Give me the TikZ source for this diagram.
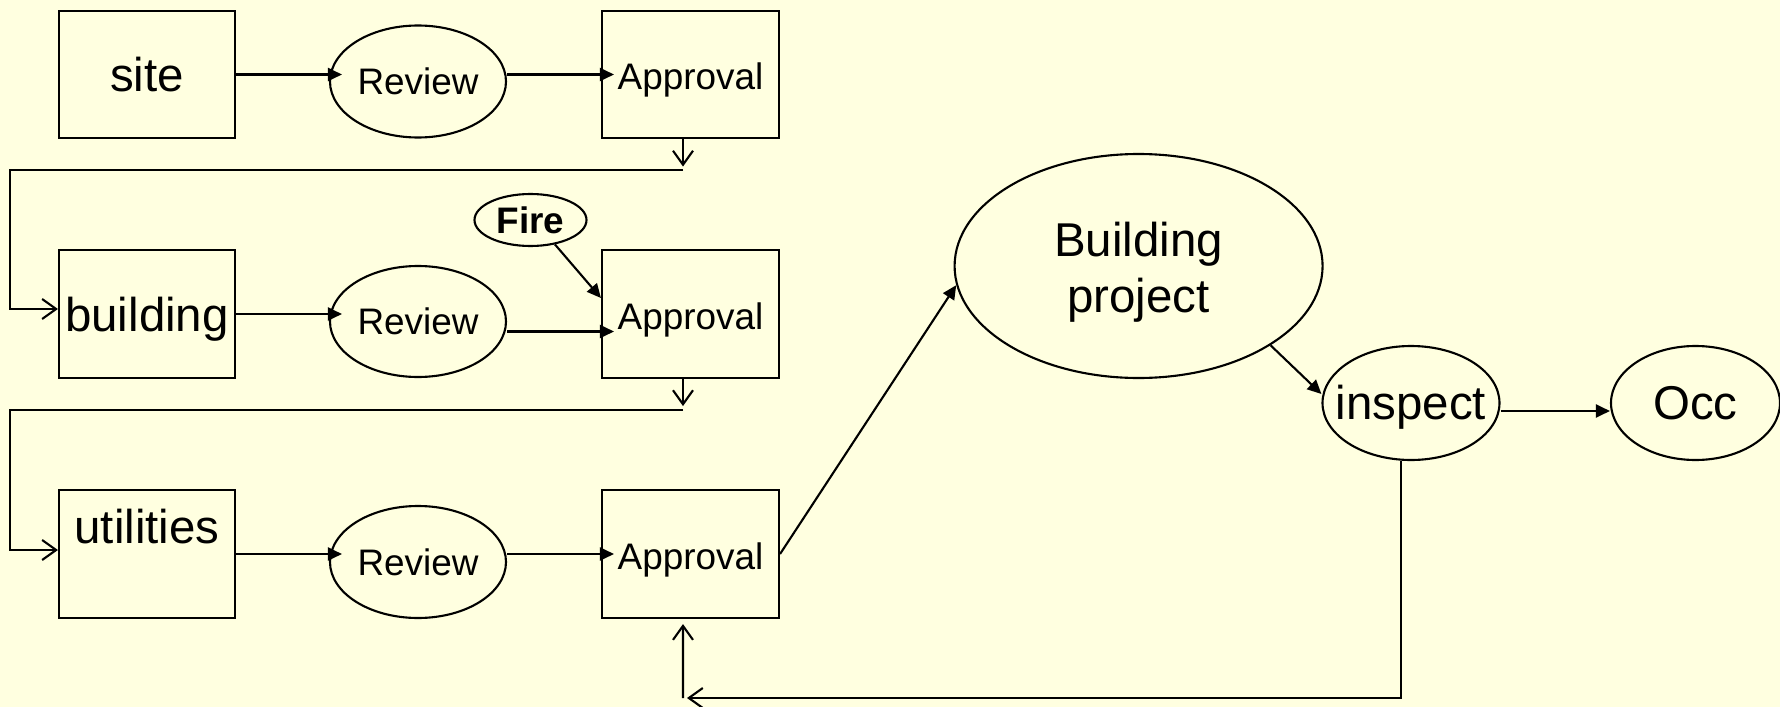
\documentclass[tikz,border=0pt]{standalone}
\usepackage{fontspec}
\setmainfont{Liberation Sans}
\usetikzlibrary{arrows.meta}
\usetikzlibrary{shapes.geometric}
\definecolor{paper}{RGB}{255,255,224}
\tikzset{
    box/.style={draw,inner sep=0,minimum width=1.76cm,minimum height=1.27cm},
    oval/.style={draw,ellipse,inner sep=0},
    bigtxt/.style={font=\fontsize{13.5}{16}\selectfont},
    smalltxt/.style={font=\fontsize{10.5}{12.6}\selectfont},
    lowtxt/.style={text height=8.6pt,text depth=0pt},
    flow/.style={-{Triangle[length=0.14cm,width=0.13cm]}},
    into/.style={flow,shorten >=-0.13cm},
    back/.style={-{Straight Barb[length=0.14cm,width=0.2cm]}},
}
\begin{document}
\begin{tikzpicture}[line width=0.6pt]
        \useasboundingbox (0,0) rectangle (17.8,-7.07);
        \fill[paper] (0,0) rectangle (17.8,-7.07);
        % Site row
        \node [box,bigtxt] (site) at (1.47,-0.745) {site};
        \node [oval,smalltxt,minimum width=1.76cm,minimum height=1.12cm] (rev1) at (4.18,-0.815) {Review};
        \node [box,smalltxt,lowtxt,minimum width=1.77cm] (app1) at (6.905,-0.745) {Approval};
        \draw [into] (site.east) -- (site.east -| rev1.west);
        \draw [into] (rev1.east |- app1) -- (app1.west);
        % Building row
        \node [box,bigtxt,text depth=0pt,minimum height=1.28cm] (bldg) at (1.47,-3.14) {building};
        \node [oval,smalltxt,minimum width=1.76cm,minimum height=1.11cm] (rev2) at (4.18,-3.215) {Review};
        \node [box,smalltxt,lowtxt,minimum width=1.77cm,minimum height=1.28cm] (app2) at (6.905,-3.14) {Approval};
        \node [oval,smalltxt,minimum width=1.12cm,minimum height=0.52cm] (fire) at (5.305,-2.20) {\bfseries Fire};
        \draw [into] (bldg.east) -- (bldg.east -| rev2.west);
        \draw [into] ([yshift=-0.1cm]rev2.east) -- ([yshift=-0.1cm]rev2.east -| app2.west);
        \draw [flow] (fire.-45) -- ([yshift=0.16cm]app2.west);
        % Utilities row
        \node [box,bigtxt,minimum height=1.28cm,text depth=0.55cm] (util) at (1.47,-5.54) {utilities};
        \node [oval,smalltxt,minimum width=1.76cm,minimum height=1.12cm] (rev3) at (4.18,-5.62) {Review};
        \node [box,smalltxt,lowtxt,minimum width=1.77cm,minimum height=1.28cm] (app3) at (6.905,-5.54) {Approval};
        \draw [into] (util.east) -- (util.east -| rev3.west);
        \draw [into] (rev3.east |- app3) -- (app3.west);
        % Project and inspection
        \node [oval,minimum width=3.68cm,minimum height=2.24cm,label={[bigtxt,align=center,yshift=-0.06cm]center:Building\\project}] (bp) at (11.386,-2.66) {};
        \node [oval,minimum width=1.77cm,minimum height=1.14cm,label={[bigtxt,yshift=-0.045cm]center:inspect}] (insp) at (14.11,-4.03) {};
        \node [oval,bigtxt,minimum width=1.69cm,minimum height=1.14cm] (occ) at (16.955,-4.03) {Occ};
        \draw [flow] (app3.east) -- (bp.186);
        \draw [flow] (bp.-31) -- ([yshift=0.09cm]insp.west);
        \draw [flow] ([yshift=-0.08cm]insp.east) -- ([yshift=-0.08cm]insp.east -| occ.west);
        % Links between rows
        \coordinate (turn1) at (6.83,-1.70);
        \coordinate (edge1) at (0.10,-1.70);
        \coordinate (turn2) at (6.83,-4.10);
        \coordinate (edge2) at (0.10,-4.10);
        \draw [back] ([xshift=-0.075cm]app1.south) -- ++(0,-0.275);
        \draw [back] (turn1) -- (edge1) |- ([yshift=0.05cm]bldg.west);
        \draw [back] ([xshift=-0.075cm]app2.south) -- ++(0,-0.27);
        \draw [back] (turn2) -- (edge2) |- ([yshift=0.04cm]util.west);
        % Feedback from inspection
        \coordinate (loopL) at (6.83,-6.98);
        \draw [back] ([xshift=-0.1cm]insp.south) |- ([xshift=0.04cm]loopL);
        \draw [back] (loopL) -- ([xshift=-0.075cm,yshift=-0.05cm]app3.south);
\end{tikzpicture}
\end{document}
